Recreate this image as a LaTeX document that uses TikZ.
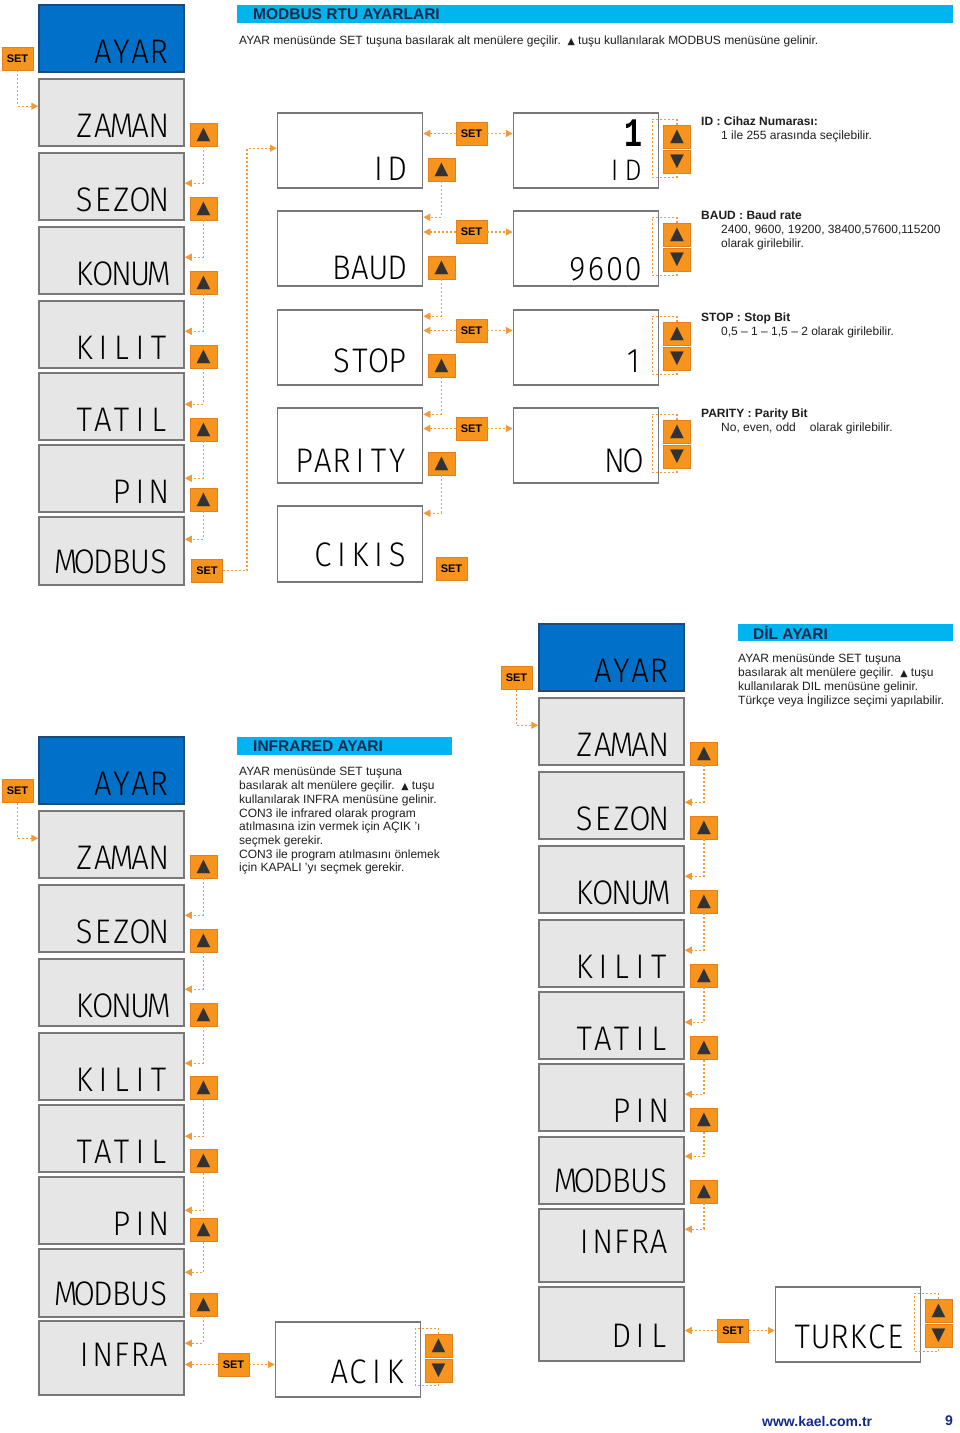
\documentclass[tikz,border=0pt]{standalone}
\usepackage{fontspec}
\setmainfont{Liberation Sans}
\IfFontExistsTF{Fira Sans Light}{\newfontfamily\segfont{Fira Sans Light}}{\newfontfamily\segfont{Liberation Mono}}
\newfontfamily\monofont{Liberation Mono}
\newfontfamily\symfont{DejaVu Sans}
\usepackage{tikz}
\usetikzlibrary{arrows.meta}
\definecolor{btnfill}{RGB}{247,148,29}
\definecolor{btnedge}{RGB}{226,128,30}
\definecolor{dotline}{RGB}{240,155,55}
\definecolor{tri}{RGB}{50,50,50}
\definecolor{lcdgray}{RGB}{230,230,230}
\definecolor{lcdedge}{RGB}{120,120,120}
\definecolor{ayarblue}{RGB}{0,112,200}
\definecolor{ayaredge}{RGB}{25,75,125}
\definecolor{barcyan}{RGB}{0,180,240}
\definecolor{titlenavy}{RGB}{25,40,75}
\definecolor{linknavy}{RGB}{20,40,140}
\definecolor{bodytext}{RGB}{30,30,30}
\tikzset{>={Triangle[length=7pt,width=7pt]}, font=\fontsize{12}{13.7}\selectfont}
\tikzstyle{menu} = [draw=lcdedge, line width=1.5pt, fill=lcdgray, text width=113pt, inner xsep=16pt, inner ysep=0pt, align=right, text height=58pt, text depth=9pt, font=\segfont\fontsize{31}{31}\selectfont]
\tikzstyle{ayar} = [menu, fill=ayarblue, draw=ayaredge]
\tikzstyle{submenu} = [menu, fill=white, text height=65pt, text depth=10pt]
\tikzstyle{setkey} = [draw=btnedge, fill=btnfill, line width=0.8pt, minimum width=31pt, minimum height=23pt, inner sep=0pt, font=\bfseries\fontsize{11}{11}\selectfont]
\tikzstyle{arrowkey} = [setkey, minimum width=27pt, font=\symfont\fontsize{18}{18}\selectfont, text=tri]
\tikzstyle{flow} = [draw=dotline, line width=1.4pt, dash pattern=on 2pt off 2pt, ->]
\tikzstyle{ring} = [draw=dotline, line width=1.4pt, dash pattern=on 2pt off 2pt]
\tikzstyle{heading} = [anchor=west, inner sep=0pt, text=titlenavy, font=\bfseries\fontsize{15.5}{15.5}\selectfont]
\tikzstyle{desc} = [anchor=north west, inner sep=0pt, align=left, text=bodytext]
\def\segchars#1{\ifx#1\relax\else\makebox[18.6pt][c]{#1}\expandafter\segchars\fi}
\newcommand{\seg}[1]{\scalebox{1}[1.1]{\segchars#1\relax}}
\newcommand{\keyup}{▲}
\newcommand{\keydown}{▼}
\newcommand{\tri}{{\symfont\fontsize{9.5}{9.5}\selectfont ▲}}

\begin{document}
\begin{tikzpicture}[x=1pt, y=-1pt]
		\useasboundingbox (0,0) rectangle (960,1433);

		% MODBUS RTU
		\fill [barcyan] (237,5) rectangle (953,23);
		\node [heading] (hmodbus) at (253,14.5) {MODBUS RTU AYARLARI};
		\node [desc] (txtmodbus) at (239,36) {AYAR menüsünde SET tuşuna basılarak alt menülere geçilir.\ \ \tri\ tuşu kullanılarak MODBUS menüsüne gelinir.};

		\node [ayar] (m1ayar) at (111.5,38.5) {\seg{AYAR}};
		\node [menu] (m1zaman) at (111.5,112.5) {\seg{ZAMAN}};
		\node [menu] (m1sezon) at (111.5,186.5) {\seg{SEZON}};
		\node [menu] (m1konum) at (111.5,260.5) {\seg{KONUM}};
		\node [menu] (m1kilit) at (111.5,334.5) {\seg{KILIT}};
		\node [menu] (m1tatil) at (111.5,406.5) {\seg{TATIL}};
		\node [menu] (m1pin) at (111.5,478.5) {\seg{PIN}};
		\node [menu, text height=56pt, text depth=12pt] (m1modbus) at (111.5,551) {\seg{MODBUS}};

		\node [setkey] (s1ayar) at (17.5,58.5) {SET};
		\node [arrowkey] (u1zaman) at (203.5,134.5) {\keyup};
		\node [arrowkey] (u1sezon) at (203.5,208.5) {\keyup};
		\node [arrowkey] (u1konum) at (203.5,282.5) {\keyup};
		\node [arrowkey] (u1kilit) at (203.5,356.5) {\keyup};
		\node [arrowkey] (u1tatil) at (203.5,429.5) {\keyup};
		\node [arrowkey] (u1pin) at (203.5,499.5) {\keyup};
		\node [setkey] (s1modbus) at (207,570.5) {SET};

		\node [submenu, text height=67pt, text depth=8pt] (m2id) at (350,150.5) {\seg{ID}};
		\node [submenu, text height=68pt, text depth=7pt] (m2baud) at (350,248.5) {\seg{BAUD}};
		\node [submenu, text height=62pt, text depth=13pt] (m2stop) at (350,347.5) {\seg{STOP}};
		\node [submenu, text height=64pt, text depth=11pt] (m2parity) at (350,445.5) {\seg{PARITY}};
		\node [submenu, text height=60pt, text depth=16pt] (m2cikis) at (350,544) {\seg{CIKIS}};

		\node [arrowkey] (u2id) at (441.5,169.5) {\keyup};
		\node [arrowkey] (u2baud) at (441.5,267.5) {\keyup};
		\node [arrowkey] (u2stop) at (441.5,365.5) {\keyup};
		\node [arrowkey] (u2parity) at (441.5,463.5) {\keyup};
		\node [setkey] (s2id) at (471.5,133.5) {SET};
		\node [setkey] (s2baud) at (471.5,232) {SET};
		\node [setkey] (s2stop) at (471.5,330.5) {SET};
		\node [setkey] (s2parity) at (471.5,428.5) {SET};
		\node [setkey] (s2cikis) at (451.5,569) {SET};

		\node [submenu, text height=67pt, text depth=8pt, font=\segfont\fontsize{27}{27}\selectfont] (v3id) at (586,150.5) {\seg{ID}};
		\node [font=\monofont\bfseries\fontsize{30}{30}\selectfont, inner sep=0pt] (v3idnum) at (633,133) {\scalebox{1}[1.35]{1}};
		\node [submenu, text height=69pt, text depth=6pt] (v3baud) at (586,248.5) {\seg{9600}};
		\node [submenu, text height=62pt, text depth=13pt] (v3stop) at (586,347.5) {\seg{1}};
		\node [submenu, text height=64pt, text depth=11pt] (v3parity) at (586,445.5) {\seg{NO}};

		\node [arrowkey] (u3id) at (677,136.5) {\keyup};
		\node [arrowkey] (d3id) at (677,161.5) {\keydown};
		\node [arrowkey] (u3baud) at (677,234.5) {\keyup};
		\node [arrowkey] (d3baud) at (677,259.5) {\keydown};
		\node [arrowkey] (u3stop) at (677,333.5) {\keyup};
		\node [arrowkey] (d3stop) at (677,358.5) {\keydown};
		\node [arrowkey] (u3parity) at (677,431.5) {\keyup};
		\node [arrowkey] (d3parity) at (677,456.5) {\keydown};

		\node [desc] (infoid) at (701,117) {\textbf{ID : Cihaz Numarası:}\\\hspace*{20pt}1 ile 255 arasında seçilebilir.};
		\node [desc] (infobaud) at (701,211) {\textbf{BAUD : Baud rate}\\\hspace*{20pt}2400, 9600, 19200, 38400,57600,115200\\\hspace*{20pt}olarak girilebilir.};
		\node [desc] (infostop) at (701,313) {\textbf{STOP : Stop Bit}\\\hspace*{20pt}0,5 -- 1 -- 1,5 -- 2 olarak girilebilir.};
		\node [desc] (infoparity) at (701,409) {\textbf{PARITY : Parity Bit}\\\hspace*{20pt}No, even, odd\hspace{14pt}olarak girilebilir.};

		\draw [flow] (s1ayar.south) |- ([yshift=-28pt]m1zaman.north west);
		\draw [flow] (u1zaman.south) |- ([yshift=-31pt]m1sezon.north east);
		\draw [flow] (u1sezon.south) |- ([yshift=-31pt]m1konum.north east);
		\draw [flow] (u1konum.south) |- ([yshift=-31pt]m1kilit.north east);
		\draw [flow] (u1kilit.south) |- ([yshift=-32pt]m1tatil.north east);
		\draw [flow] (u1tatil.south) |- ([yshift=-34pt]m1pin.north east);
		\draw [flow] (u1pin.south) |- ([yshift=-23pt]m1modbus.north east);
		\draw [flow] (s1modbus.east) -- ++(24pt,0) |- ([yshift=-36pt]m2id.north west);

		\draw [flow] (u2id.south) |- ([yshift=-7pt]m2baud.north east);
		\draw [flow] (u2baud.south) |- ([yshift=-7pt]m2stop.north east);
		\draw [flow] (u2stop.south) |- ([yshift=-7pt]m2parity.north east);
		\draw [flow] (u2parity.south) |- ([yshift=-8pt]m2cikis.north east);
		\draw [flow] (s2id.west) -- (s2id.west -| m2id.east);
		\draw [flow] (s2id.east) -- (s2id.east -| v3id.west);
		\draw [flow] (s2baud.west) -- (s2baud.west -| m2baud.east);
		\draw [flow] (s2baud.east) -- (s2baud.east -| v3baud.west);
		\draw [flow] (s2stop.west) -- (s2stop.west -| m2stop.east);
		\draw [flow] (s2stop.east) -- (s2stop.east -| v3stop.west);
		\draw [flow] (s2parity.west) -- (s2parity.west -| m2parity.east);
		\draw [flow] (s2parity.east) -- (s2parity.east -| v3parity.west);

		\draw [ring] (u3id.north) |- ([xshift=-7pt,yshift=-7pt]v3id.north east) -- ++(0,58) -| (d3id.south);
		\draw [ring] (u3baud.north) |- ([xshift=-7pt,yshift=-7pt]v3baud.north east) -- ++(0,58) -| (d3baud.south);
		\draw [ring] (u3stop.north) |- ([xshift=-7pt,yshift=-7pt]v3stop.north east) -- ++(0,58) -| (d3stop.south);
		\draw [ring] (u3parity.north) |- ([xshift=-7pt,yshift=-7pt]v3parity.north east) -- ++(0,58) -| (d3parity.south);

		% DIL
		\fill [barcyan] (738,624) rectangle (953,641);
		\node [heading] (hdil) at (753,632.5) {DİL AYARI};
		\node [desc] (txtdil) at (738,654) {AYAR menüsünde SET tuşuna\\basılarak alt menülere geçilir.\ \ \tri\ tuşu\\kullanılarak DIL menüsüne gelinir.\\Türkçe veya İngilizce seçimi yapılabilir.};

		\node [ayar] (m5ayar) at (611.5,657.5) {\seg{AYAR}};
		\node [menu] (m5zaman) at (611.5,731.5) {\seg{ZAMAN}};
		\node [menu] (m5sezon) at (611.5,805.5) {\seg{SEZON}};
		\node [menu] (m5konum) at (611.5,879.5) {\seg{KONUM}};
		\node [menu] (m5kilit) at (611.5,953.5) {\seg{KILIT}};
		\node [menu] (m5tatil) at (611.5,1025.5) {\seg{TATIL}};
		\node [menu] (m5pin) at (611.5,1097.5) {\seg{PIN}};
		\node [menu, text height=55pt, text depth=12pt] (m5modbus) at (611.5,1170.5) {\seg{MODBUS}};
		\node [menu, text height=44pt, text depth=29pt] (m5infra) at (611.5,1245.5) {\seg{INFRA}};
		\node [menu, text height=60pt, text depth=14pt] (m5dil) at (611.5,1324) {\seg{DIL}};
		\node [submenu, text height=61pt, text depth=14pt] (v5turkce) at (848,1324.5) {\seg{TURKCE}};

		\node [setkey] (s5ayar) at (516.5,678) {SET};
		\node [arrowkey] (u5zaman) at (704,753.5) {\keyup};
		\node [arrowkey] (u5sezon) at (704,827.5) {\keyup};
		\node [arrowkey] (u5konum) at (704,901.5) {\keyup};
		\node [arrowkey] (u5kilit) at (704,975.5) {\keyup};
		\node [arrowkey] (u5tatil) at (704,1048) {\keyup};
		\node [arrowkey] (u5pin) at (704,1120) {\keyup};
		\node [arrowkey] (u5modbus) at (704,1191.5) {\keyup};
		\node [setkey] (s5dil) at (733,1330.5) {SET};
		\node [arrowkey] (u5turkce) at (938.5,1310.5) {\keyup};
		\node [arrowkey] (d5turkce) at (938.5,1335.5) {\keydown};

		\draw [flow] (s5ayar.south) |- ([yshift=-28pt]m5zaman.north west);
		\draw [flow] (u5zaman.south) |- ([yshift=-31pt]m5sezon.north east);
		\draw [flow] (u5sezon.south) |- ([yshift=-31pt]m5konum.north east);
		\draw [flow] (u5konum.south) |- ([yshift=-31pt]m5kilit.north east);
		\draw [flow] (u5kilit.south) |- ([yshift=-31pt]m5tatil.north east);
		\draw [flow] (u5tatil.south) |- ([yshift=-31pt]m5pin.north east);
		\draw [flow] (u5pin.south) |- ([yshift=-20pt]m5modbus.north east);
		\draw [flow] (u5modbus.south) |- ([yshift=-21pt]m5infra.north east);
		\draw [flow] (s5dil.west) -- (s5dil.west -| m5dil.east);
		\draw [flow] (s5dil.east) -- (s5dil.east -| v5turkce.west);
		\draw [ring] (u5turkce.north) |- ([xshift=-7pt,yshift=-7pt]v5turkce.north east) -- ++(0,58) -| (d5turkce.south);

		% INFRARED
		\fill [barcyan] (237,737) rectangle (452,755);
		\node [heading] (hinfra) at (253,746) {INFRARED AYARI};
		\node [desc] (txtinfra) at (239,767) {AYAR menüsünde SET tuşuna\\basılarak alt menülere geçilir.\ \ \tri\ tuşu\\kullanılarak INFRA menüsüne gelinir.\\CON3 ile infrared olarak program\\atılmasına izin vermek için AÇIK 'ı\\seçmek gerekir.\\CON3 ile program atılmasını önlemek\\için KAPALI 'yı seçmek gerekir.};

		\node [ayar] (m4ayar) at (111.5,770.5) {\seg{AYAR}};
		\node [menu] (m4zaman) at (111.5,844.5) {\seg{ZAMAN}};
		\node [menu] (m4sezon) at (111.5,918.5) {\seg{SEZON}};
		\node [menu] (m4konum) at (111.5,992.5) {\seg{KONUM}};
		\node [menu] (m4kilit) at (111.5,1066.5) {\seg{KILIT}};
		\node [menu] (m4tatil) at (111.5,1138.5) {\seg{TATIL}};
		\node [menu] (m4pin) at (111.5,1210.5) {\seg{PIN}};
		\node [menu, text height=56pt, text depth=12pt] (m4modbus) at (111.5,1283) {\seg{MODBUS}};
		\node [menu, text height=45pt, text depth=29pt] (m4infra) at (111.5,1358) {\seg{INFRA}};
		\node [submenu, text height=61pt, text depth=14pt] (v4acik) at (348,1359.5) {\seg{ACIK}};

		\node [setkey] (s4ayar) at (17.5,791) {SET};
		\node [arrowkey] (u4zaman) at (203.5,866.5) {\keyup};
		\node [arrowkey] (u4sezon) at (203.5,940.5) {\keyup};
		\node [arrowkey] (u4konum) at (203.5,1014.5) {\keyup};
		\node [arrowkey] (u4kilit) at (203.5,1088) {\keyup};
		\node [arrowkey] (u4tatil) at (203.5,1161) {\keyup};
		\node [arrowkey] (u4pin) at (203.5,1230) {\keyup};
		\node [arrowkey] (u4modbus) at (203.5,1304.5) {\keyup};
		\node [setkey] (s4infra) at (233.5,1364.5) {SET};
		\node [arrowkey] (u4acik) at (438.5,1345.5) {\keyup};
		\node [arrowkey] (d4acik) at (438.5,1370.5) {\keydown};

		\draw [flow] (s4ayar.south) |- ([yshift=-28pt]m4zaman.north west);
		\draw [flow] (u4zaman.south) |- ([yshift=-31pt]m4sezon.north east);
		\draw [flow] (u4sezon.south) |- ([yshift=-31pt]m4konum.north east);
		\draw [flow] (u4konum.south) |- ([yshift=-31pt]m4kilit.north east);
		\draw [flow] (u4kilit.south) |- ([yshift=-32pt]m4tatil.north east);
		\draw [flow] (u4tatil.south) |- ([yshift=-34pt]m4pin.north east);
		\draw [flow] (u4pin.south) |- ([yshift=-24pt]m4modbus.north east);
		\draw [flow] (u4modbus.south) |- ([yshift=-23pt]m4infra.north east);
		\draw [flow] (s4infra.west) -- (s4infra.west -| m4infra.east);
		\draw [flow] (s4infra.east) -- (s4infra.east -| v4acik.west);
		\draw [ring] (u4acik.north) |- ([xshift=-6pt,yshift=-7pt]v4acik.north east) -- ++(0,57) -| (d4acik.south);

		\node [anchor=west, inner sep=0pt, text=linknavy, font=\bfseries\fontsize{14}{14}\selectfont] (url) at (762,1421) {www.kael.com.tr};
		\node [anchor=west, inner sep=0pt, text=linknavy, font=\bfseries\fontsize{14}{14}\selectfont] (page) at (945,1421) {9};
	\end{tikzpicture}
\end{document}
